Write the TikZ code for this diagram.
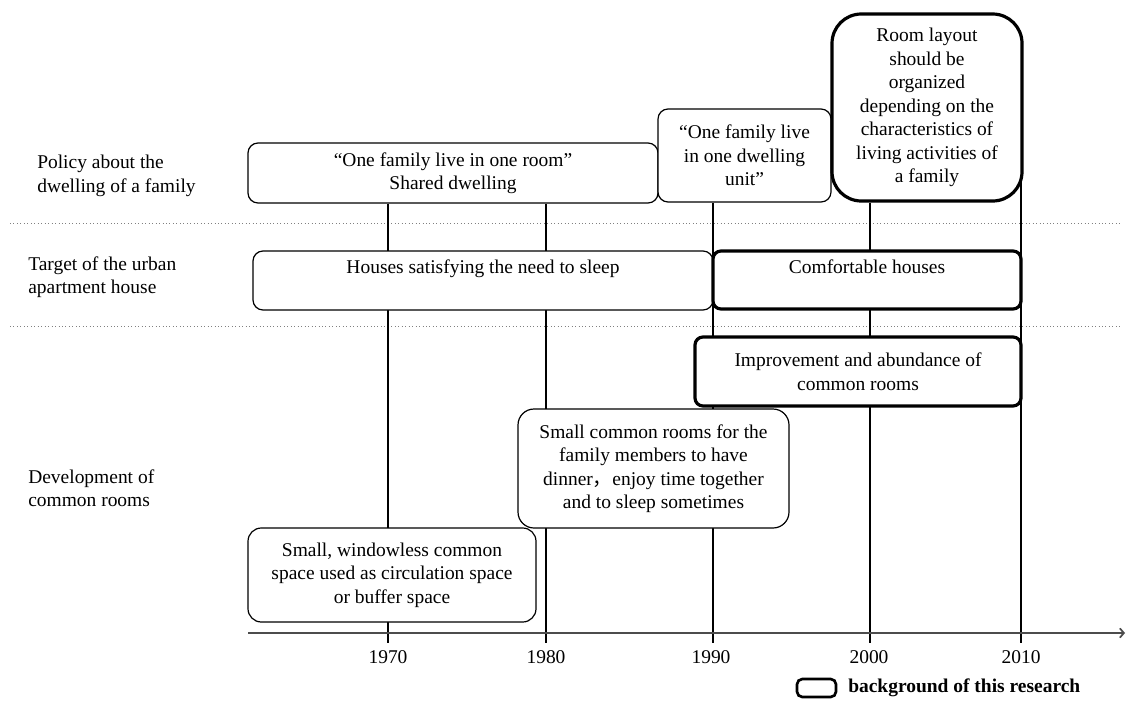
\documentclass[tikz,border=0pt]{standalone}
\usepackage{fontspec}
\setmainfont{Liberation Serif}
\newfontfamily\cjkfont{Noto Sans CJK SC}
\usetikzlibrary{arrows.meta,backgrounds}
\begin{document}
\begin{tikzpicture}[x=0.75pt,y=-0.75pt,
  every node/.style={font=\fontsize{14.6pt}{17.6pt}\selectfont, inner sep=0pt},
  thinbox/.style={draw, rounded corners=7.5pt, fill=white, line width=0.9pt, align=center},
  thickbox/.style={draw, rounded corners=6pt, fill=white, line width=2.4pt, align=center},
  vline/.style={line width=1.3pt},
  sepline/.style={dotted, draw=gray, line width=0.6pt},
  axisline/.style={line width=1.3pt, draw=black!70, -{Straight Barb[length=3pt,width=7pt]}},
  lab/.style={align=left, anchor=west},
  year/.style={anchor=center}]

\useasboundingbox (0,0) rectangle (1126,700);

% coordinates
\coordinate (b70) at (388,643);
\coordinate (b80) at (546,643);
\coordinate (b90) at (713,643);
\coordinate (b00) at (870,643);
\coordinate (b10) at (1021,643);
\coordinate (a0) at (248,633);
\coordinate (a1) at (1125,633);
\coordinate (d1l) at (10,223);
\coordinate (d1r) at (1120,223);
\coordinate (d2l) at (10,326);
\coordinate (d2r) at (1120,326);

% row labels
\node[lab] (lpol) at (37,176) {Policy about the\\dwelling of a family};
\node[lab] (ltar) at (28,277) {Target of the urban\\apartment house};
\node[lab] (ldev) at (28,488) {Development of\\common rooms};

% policy row
\node[thinbox, minimum width=307.5pt, minimum height=45pt] (pol1) at (453,173)
  {“One family live in one room”\\Shared dwelling};
\node[thinbox, minimum width=129.75pt, minimum height=69.75pt] (pol2) at (744.5,155.5)
  {“One family live\\in one dwelling\\unit”};
\node[thickbox, rounded corners=22pt, minimum width=142.5pt, minimum height=140.25pt] (room) at (927,107.5)
  {Room layout\\should be\\organized\\depending on the\\characteristics of\\living activities of\\a family};

% target row
\node[thinbox, minimum width=345pt, minimum height=44.25pt] (houses) at (483,280.5) {};
\node[anchor=base] (housest) at (483,273) {Houses satisfying the need to sleep};
\node[thickbox, minimum width=231pt, minimum height=43.5pt] (comfort) at (867,280) {};
\node[anchor=base] (comfortt) at (867,273) {Comfortable houses};

% common rooms row
\node[thickbox, minimum width=244.5pt, minimum height=51.75pt] (improve) at (858,371.5)
  {Improvement and abundance of\\common rooms};
\node[thinbox, rounded corners=12pt, minimum width=203.25pt, minimum height=89.25pt] (small) at (653.5,468.5)
  {Small common rooms for the\\family members to have\\dinner{\cjkfont ，}enjoy time together\\and to sleep sometimes};
\node[thinbox, rounded corners=10pt, minimum width=216pt, minimum height=70.5pt] (window) at (392,575)
  {Small, windowless common\\space used as circulation space\\or buffer space};

% years
\node[year] (y70) at (388,657) {1970};
\node[year] (y80) at (546,657) {1980};
\node[year] (y90) at (711,657) {1990};
\node[year] (y00) at (869,657) {2000};
\node[year] (y10) at (1021,657) {2010};

% legend
\node[thickbox, line width=2pt, rounded corners=4pt, minimum width=29.25pt, minimum height=13.5pt] (legbox) at (816.5,688) {};
\node[anchor=west, font=\fontsize{14.6pt}{17.6pt}\selectfont\bfseries] (legtext) at (848,688) {background of this research};

\begin{scope}[on background layer]
  \draw[sepline] (d1l) -- (d1r);
  \draw[sepline] (d2l) -- (d2r);
  \draw[vline] (b70 |- pol1.south) -- (b70);
  \draw[vline] (b80 |- pol1.south) -- (b80);
  \draw[vline] (b90 |- pol2.south) -- (b90);
  \draw[vline] (b00 |- room.south) -- (b00);
  \draw[vline] (b10 |- room.east) -- (b10);
  \draw[axisline] (a0) -- (a1);
\end{scope}
\end{tikzpicture}
\end{document}
